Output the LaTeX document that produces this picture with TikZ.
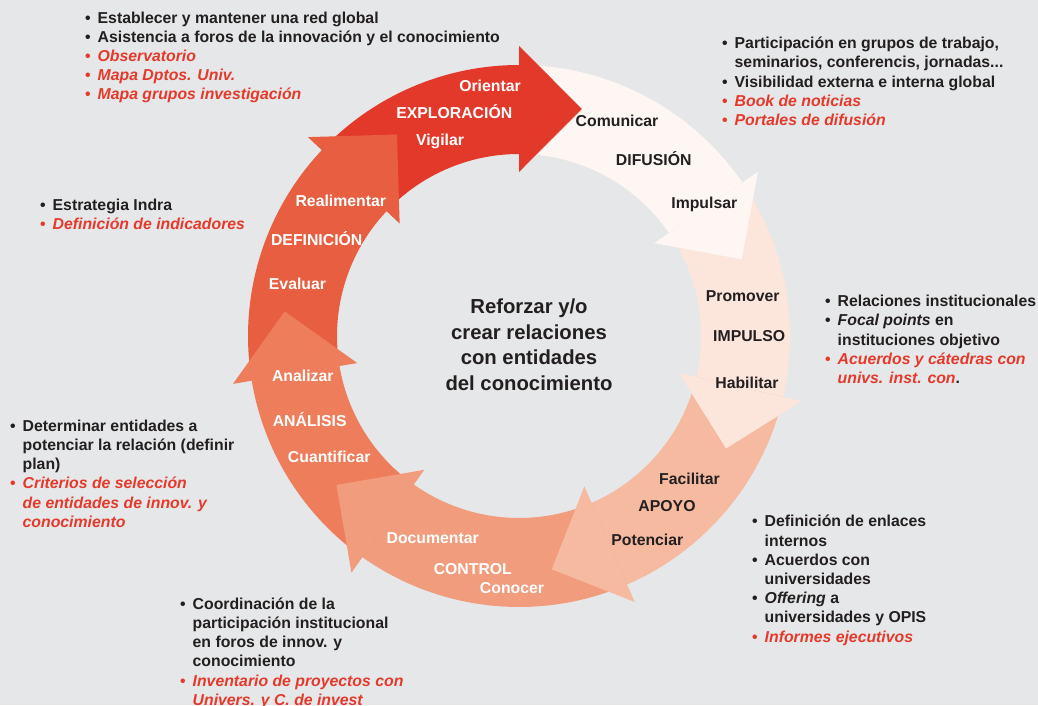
\documentclass[tikz,border=0pt]{standalone}
\usepackage{fontspec}
\setmainfont{Liberation Sans}
\definecolor{bg}{HTML}{E6E7E8}
\definecolor{cexp}{HTML}{E3392B}
\definecolor{cdef}{HTML}{E85E41}
\definecolor{cana}{HTML}{EE7D5C}
\definecolor{ccon}{HTML}{F19C7D}
\definecolor{capo}{HTML}{F6BAA1}
\definecolor{cimp}{HTML}{FCE5DB}
\definecolor{cdif}{HTML}{FEF6F3}
\definecolor{txt}{HTML}{231F20}
\definecolor{rtxt}{HTML}{E4392B}
\newcommand\ringseg[3]{%
  \fill[#1] (#2:182) arc[start angle=#2, end angle=#3, radius=182] -- (#3:271) arc[start angle=#3, end angle=#2, radius=271] -- cycle;}
\newcommand\ringhead[2]{%
  \fill[#1] (#2:164) -- (#2:290) -- (#2-15.5:235.6) -- cycle;}
\newcommand\bu{\makebox[12.5pt][l]{•}}
\newcommand\ind{\hspace*{12.5pt}}
\newcommand\firststrut{\rule{0pt}{15pt}}
\tikzset{
  lab/.style={font=\fontsize{15.8}{19}\selectfont\bfseries, inner sep=0, anchor=base},
  wlab/.style={lab, text=white},
  dlab/.style={lab, text=txt},
  blk/.style={font=\fontsize{15.8}{19.2}\selectfont\bfseries, inner sep=0, anchor=north west, align=left, text=txt},
  ctr/.style={font=\fontsize{20.3}{25.5}\selectfont\bfseries, inner sep=0, anchor=north, align=center, text=txt}
}
\begin{document}
\begin{tikzpicture}[x=1pt,y=1pt]
\useasboundingbox (0,0) rectangle (1038,705);
\fill[bg] (0,0) rectangle (1038,705);
\begin{scope}[shift={(519,369)}]
  % shafts
  \ringseg{cdef}{189.5}{136.7}
  \ringseg{cexp}{136.7}{90}
  \ringseg{cdif}{90}{34.5}
  \ringseg{cimp}{34.5}{-13}
  \ringseg{capo}{-13}{-66.5}
  \ringseg{ccon}{-66.5}{-125.3}
  \ringseg{cana}{-125.3}{-170.5}
  % heads
  \ringhead{cexp}{90}
  \ringhead{cdif}{34.5}
  \ringhead{cimp}{-13}
  \ringhead{capo}{-66.5}
  \ringhead{ccon}{-125.3}
  \ringhead{cana}{-170.5}
  \ringhead{cdef}{136.7}
\end{scope}
% arrow labels
\node[wlab] (orientar) at (490,613.5) {Orientar};
\node[wlab] (exploracion) at (454.3,586) {EXPLORACIÓN};
\node[wlab] (vigilar) at (440,559.5) {Vigilar};
\node[wlab] (realimentar) at (340.8,498.3) {Realimentar};
\node[wlab] (definicion) at (316.7,459) {DEFINICIÓN};
\node[wlab] (evaluar) at (297.5,415) {Evaluar};
\node[wlab] (analizar) at (302.8,323.3) {Analizar};
\node[wlab] (analisis) at (309.7,279) {ANÁLISIS};
\node[wlab] (cuantificar) at (329.2,242.3) {Cuantificar};
\node[wlab] (documentar) at (432.7,161.7) {Documentar};
\node[wlab] (control) at (472.8,130.7) {CONTROL};
\node[wlab] (conocer) at (512,111.7) {Conocer};
\node[dlab] (facilitar) at (689.5,221) {Facilitar};
\node[dlab] (apoyo) at (667,193.3) {APOYO};
\node[dlab] (potenciar) at (647.3,160) {Potenciar};
\node[dlab] (promover) at (742.7,403.3) {Promover};
\node[dlab] (impulso) at (749.2,363.3) {IMPULSO};
\node[dlab] (habilitar) at (747,316.7) {Habilitar};
\node[dlab] (comunicar) at (617,578.3) {Comunicar};
\node[dlab] (difusion) at (653.7,539) {DIFUSIÓN};
\node[dlab] (impulsar) at (704.3,496.7) {Impulsar};
% center
\node[ctr] (centro) at (529,411.5) {\rule{0pt}{20pt}Reforzar y/o\\crear relaciones\\con entidades\\del conocimiento};
% bullet blocks
\node[blk] (exptxt) at (85,697) {\firststrut\bu Establecer y mantener una red global\\
\bu Asistencia a foros de la innovación y el conocimiento\\
{\color{rtxt}\bu\itshape Observatorio}\\
{\color{rtxt}\bu\itshape Mapa Dptos. Univ.}\\
{\color{rtxt}\bu\itshape Mapa grupos investigación}};
\node[blk] (diftxt) at (722,671.5) {\firststrut\bu Participación en grupos de trabajo,\\
\ind seminarios, conferencis, jornadas...\\
\bu Visibilidad externa e interna global\\
{\color{rtxt}\bu\itshape Book de noticias}\\
{\color{rtxt}\bu\itshape Portales de difusión}};
\node[blk] (imptxt) at (825,413.5) {\firststrut\bu Relaciones institucionales\\
\bu{\itshape Focal points} en\\
\ind instituciones objetivo\\
{\color{rtxt}\bu\itshape Acuerdos y cátedras con}\\
\ind{\color{rtxt}\itshape univs. inst. con}.};
\node[blk] (deftxt) at (40,510) {\firststrut\bu Estrategia Indra\\
{\color{rtxt}\bu\itshape Definición de indicadores}};
\node[blk] (anatxt) at (10,289) {\firststrut\bu Determinar entidades a\\
\ind potenciar la relación (definir\\
\ind plan)\\
{\color{rtxt}\bu\itshape Criterios de selección}\\
\ind{\color{rtxt}\itshape de entidades de innov. y}\\
\ind{\color{rtxt}\itshape conocimiento}};
\node[blk] (apotxt) at (752,193.3) {\firststrut\bu Definición de enlaces\\
\ind internos\\
\bu Acuerdos con\\
\ind universidades\\
\bu{\itshape Offering} a\\
\ind universidades y OPIS\\
{\color{rtxt}\bu\itshape Informes ejecutivos}};
\node[blk] (contxt) at (180,111) {\firststrut\bu Coordinación de la\\
\ind participación institucional\\
\ind en foros de innov. y\\
\ind conocimiento\\
{\color{rtxt}\bu\itshape Inventario de proyectos con}\\
\ind{\color{rtxt}\itshape Univers. y C. de invest}};
\end{tikzpicture}
\end{document}
